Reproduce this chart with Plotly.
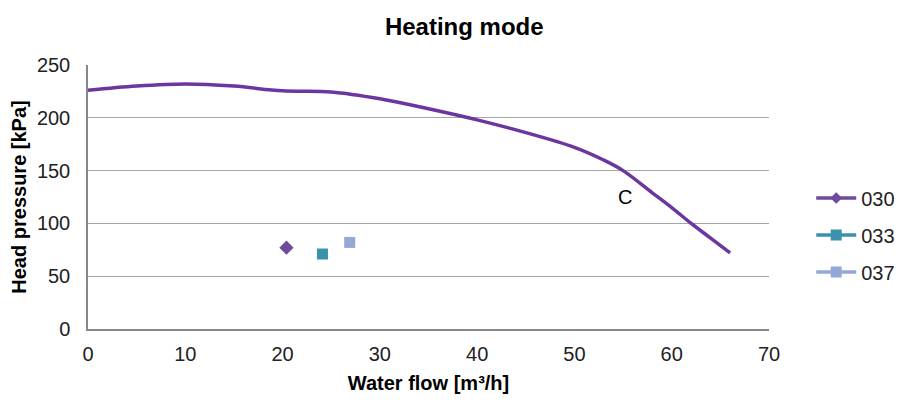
import plotly.graph_objects as go

curve_flow = [0, 5, 10, 15, 20, 25, 30, 35, 40, 45, 50, 53, 55, 58, 60, 62, 64, 66]
curve_head = [226, 230, 232, 230, 225.5, 224.5, 218, 208.5, 198, 186, 172, 160, 150, 129, 115, 100, 86, 72]

series_names = ["030", "033", "037"]
point_flow = [20.4, 24.1, 26.9]
point_head = [77, 71, 82]
colors = ["#6E4C9B", "#3A93AB", "#94A8D6"]
symbols = ["diamond", "square", "square"]
sizes = [11, 11, 11]
legend_sizes = [9, 11, 11]

fig = go.Figure()
fig.add_trace(go.Scatter(x=curve_flow, y=curve_head, mode="lines",
                         line=dict(color="#6C36A0", width=3.5, shape="spline"),
                         showlegend=False, hoverinfo="skip"))
for n, xv, yv, c, s, sz, lsz in zip(series_names, point_flow, point_head, colors, symbols, sizes, legend_sizes):
    fig.add_trace(go.Scatter(x=[xv], y=[yv], mode="markers", name=n, legendgroup=n,
                             marker=dict(color=c, symbol=s, size=sz), showlegend=False))
    fig.add_trace(go.Scatter(x=[None], y=[None], mode="lines+markers", name=n, legendgroup=n,
                             line=dict(color=c, width=3.5),
                             marker=dict(color=c, symbol=s, size=lsz)))

fig.add_annotation(x=55.2, y=125, text="C", showarrow=False,
                   font=dict(size=20, color="#000000", family="Liberation Sans, Arial"))

fig.update_layout(
    width=907, height=403,
    margin=dict(l=80, r=146, t=57, b=82),
    paper_bgcolor="white", plot_bgcolor="white",
    font=dict(family="Liberation Sans, Arial", size=20, color="#222222"),
    title=dict(text="<b>Heating mode</b>", x=0.503, xanchor="center", xref="container",
               y=0.955, yanchor="middle", font=dict(size=24, color="#000000")),
    legend=dict(x=1.062, y=0.356, xanchor="left", yanchor="middle",
                font=dict(size=20, color="#222222"), tracegroupgap=8,
                itemwidth=40),
    xaxis=dict(range=[0, 70], dtick=10, showgrid=False, showline=True,
               linecolor="#888888", linewidth=1.5, ticks="", zeroline=False,
               ticklabelstandoff=6, automargin=False,
               title=dict(text="<b>Water flow [m³/h]</b>", font=dict(size=20, color="#000000"),
                          standoff=12)),
    yaxis=dict(range=[0, 250], dtick=50, showgrid=True, gridcolor="#A6A6A6", gridwidth=1.2,
               showline=True, linecolor="#888888", linewidth=1.5, ticks="", zeroline=False,
               ticklabelstandoff=12, automargin=False,
               title=dict(text="<b>Head pressure [kPa]</b>", font=dict(size=20, color="#000000"),
                          standoff=9)),
)
fig.write_html("out.html")
